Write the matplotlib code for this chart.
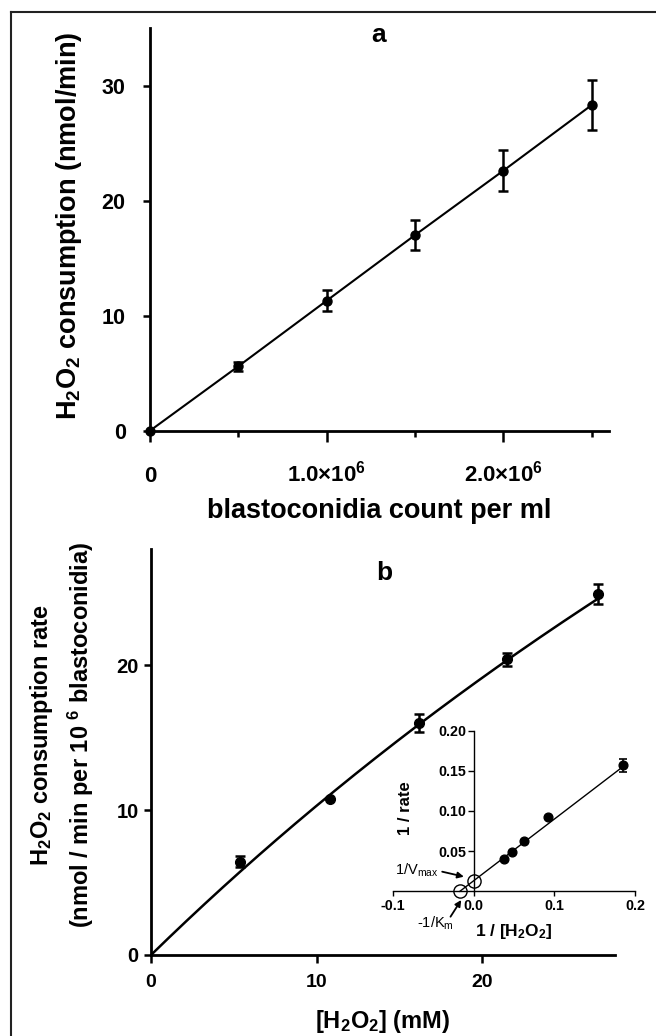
import numpy as np
import matplotlib
matplotlib.use('Agg')
import matplotlib.pyplot as plt
from matplotlib.lines import Line2D

plt.rcParams['font.family'] = ['Liberation Sans', 'DejaVu Sans']
plt.rcParams['font.weight'] = 'bold'
plt.rcParams['mathtext.fontset'] = 'custom'
plt.rcParams['mathtext.rm'] = 'Liberation Sans'
plt.rcParams['mathtext.bf'] = 'Liberation Sans:bold'
plt.rcParams['mathtext.default'] = 'regular'

# ---------------- Panel a data ----------------
cells_per_ml = [0, 0.5e6, 1.0e6, 1.5e6, 2.0e6, 2.5e6]
h2o2_consumption = [0, 5.6, 11.3, 17.0, 22.6, 28.3]
h2o2_consumption_err = [0, 0.4, 0.9, 1.3, 1.8, 2.2]
a_xticks = [0, 1.0e6, 2.0e6]
a_xtick_labels = ['0', '1.0×10$^6$', '2.0×10$^6$']
a_minor_xticks = [0.5e6, 1.5e6, 2.5e6]
a_yticks = [0, 10, 20, 30]
a_xlim = (0, 2.6e6)
a_ylim = (0, 35)

# ---------------- Panel b data ----------------
h2o2_mM = [5.4, 10.8, 16.2, 21.5, 27.0]
rate = [6.45, 10.8, 16.0, 20.4, 24.9]
rate_err = [0.4, 0.0, 0.6, 0.45, 0.7]
fit_vmax = 134.0
fit_km = 120.0
b_xticks = [0, 10, 20]
b_yticks = [0, 10, 20]
b_xlim = (0, 28)
b_ylim = (0, 28)

# ---------------- Inset (Lineweaver-Burk) ----------------
inv_h2o2 = [0.037, 0.047, 0.062, 0.092, 0.185]
inv_rate = [0.040, 0.049, 0.063, 0.093, 0.157]
inv_rate_err = [0.0, 0.0, 0.0, 0.0, 0.008]
lb_slope = 0.766
lb_intercept = 0.0133
in_xticks = [-0.1, 0.0, 0.1, 0.2]
in_xtick_labels = ['-0.1', '0.0', '0.1', '0.2']
in_yticks = [0.05, 0.10, 0.15, 0.20]
in_ytick_labels = ['0.05', '0.10', '0.15', '0.20']

W, H = 656, 1036
fig = plt.figure(figsize=(W / 100, H / 100), dpi=100)

# figure border (top and left visible)
fig.add_artist(Line2D([11 / W, 11 / W], [-0.01, 1 - 12 / H], transform=fig.transFigure,
                      color='#222222', lw=1.5))
fig.add_artist(Line2D([11 / W, 1.01], [1 - 12 / H, 1 - 12 / H], transform=fig.transFigure,
                      color='#222222', lw=1.5))

# ---------------- Panel a ----------------
ax_a = fig.add_axes([150 / W, 1 - 430.7 / H, 459.3 / W, 402.7 / H])
ax_a.plot(cells_per_ml, h2o2_consumption, '-o', color='black', lw=1.5, ms=6.5, clip_on=False, zorder=3)
ex = [x for x, e in zip(cells_per_ml, h2o2_consumption_err) if e > 0]
ey = [y for y, e in zip(h2o2_consumption, h2o2_consumption_err) if e > 0]
ee = [e for e in h2o2_consumption_err if e > 0]
ax_a.errorbar(ex, ey, yerr=ee, fmt='none', ecolor='black', elinewidth=1.8, capsize=3.6, capthick=1.8)
ax_a.set_xlim(*a_xlim)
ax_a.set_ylim(*a_ylim)
ax_a.set_xticks(a_xticks)
ax_a.set_xticklabels(a_xtick_labels)
ax_a.set_xticks(a_minor_xticks, minor=True)
ax_a.set_yticks(a_yticks)
for s in ['top', 'right']:
    ax_a.spines[s].set_visible(False)
for s in ['left', 'bottom']:
    ax_a.spines[s].set_linewidth(2)
ax_a.tick_params(axis='x', which='major', length=7.9, width=1.8, labelsize=16, pad=28.8)
ax_a.tick_params(axis='x', which='minor', length=4.3, width=1.8)
ax_a.tick_params(axis='y', which='major', length=5, width=1.8, labelsize=15.5, pad=12.5)
for lab in ax_a.get_xticklabels():
    lab.set_va('baseline')
ax_a.set_ylabel('H$_2$O$_2$ consumption (nmol/min)', fontsize=19.5, fontweight='bold')
ax_a.yaxis.label.set_va('center')
ax_a.yaxis.set_label_coords(-0.176, 0.508)
ax_a.set_xlabel('blastoconidia count per ml', fontsize=19.5, fontweight='bold')
ax_a.xaxis.label.set_va('baseline')
ax_a.xaxis.set_label_coords(0.5, -0.216)
ax_a.text(0.497, 0.966, 'a', transform=ax_a.transAxes, ha='center', va='baseline',
          fontsize=19, fontweight='bold')

# ---------------- Panel b ----------------
ax_b = fig.add_axes([151 / W, 1 - 955 / H, 464 / W, 405.7 / H])
s = np.linspace(0, h2o2_mM[-1], 200)
ax_b.plot(s, fit_vmax * s / (fit_km + s), color='black', lw=1.8)
ax_b.plot(h2o2_mM, rate, 'o', color='black', ms=7, zorder=3)
bx = [x for x, e in zip(h2o2_mM, rate_err) if e > 0]
by = [y for y, e in zip(rate, rate_err) if e > 0]
be = [e for e in rate_err if e > 0]
ax_b.errorbar(bx, by, yerr=be, fmt='none', ecolor='black', elinewidth=1.8, capsize=3.6, capthick=1.8)
ax_b.set_xlim(*b_xlim)
ax_b.set_ylim(*b_ylim)
ax_b.set_xticks(b_xticks)
ax_b.set_yticks(b_yticks)
for sp in ['top', 'right']:
    ax_b.spines[sp].set_visible(False)
for sp in ['left', 'bottom']:
    ax_b.spines[sp].set_linewidth(2)
ax_b.tick_params(axis='x', length=5.8, width=1.8, labelsize=14, pad=17)
ax_b.tick_params(axis='y', length=5, width=1.8, labelsize=14.5, pad=3.9)
for lab in ax_b.get_xticklabels():
    lab.set_va('baseline')
ax_b.text(-0.235, 0.542, 'H$_2$O$_2$ consumption rate', transform=ax_b.transAxes,
          rotation=90, ha='center', va='center', fontsize=17, fontweight='bold')
ax_b.text(-0.151, 0.542, '(nmol / min per 10 $^6$ blastoconidia)', transform=ax_b.transAxes,
          rotation=90, ha='center', va='center', fontsize=17, fontweight='bold')
ax_b.set_xlabel('[H$_2$O$_2$] (mM)', fontsize=17, fontweight='bold')
ax_b.xaxis.label.set_va('baseline')
ax_b.xaxis.set_label_coords(0.5, -0.181)
ax_b.text(0.503, 0.924, 'b', transform=ax_b.transAxes, ha='center', va='baseline',
          fontsize=19, fontweight='bold')

# ---------------- Inset ----------------
ax_in = fig.add_axes([393.3 / W, 1 - 891.3 / H, 241.7 / W, 160.8 / H])
ax_in.set_facecolor('none')
x0 = -lb_intercept / lb_slope
lx = np.array([x0, inv_h2o2[-1]])
ax_in.plot(lx, lb_slope * lx + lb_intercept, color='black', lw=1.0, clip_on=False)
ax_in.plot(inv_h2o2, inv_rate, 'o', color='black', ms=6.3, clip_on=False, zorder=3)
ix = [x for x, e in zip(inv_h2o2, inv_rate_err) if e > 0]
iy = [y for y, e in zip(inv_rate, inv_rate_err) if e > 0]
ie = [e for e in inv_rate_err if e > 0]
ax_in.errorbar(ix, iy, yerr=ie, fmt='none', ecolor='black', elinewidth=1.2, capsize=3, capthick=1.2,
               clip_on=False)
ax_in.plot([0, x0], [lb_intercept, 0], 'o', mfc='none', mec='black', mew=1.0, ms=9.5, clip_on=False,
           zorder=4)
ax_in.set_xlim(-0.1, 0.2)
ax_in.set_ylim(0, 0.2)
ax_in.spines['left'].set_position(('data', 0))
for sp in ['top', 'right']:
    ax_in.spines[sp].set_visible(False)
for sp in ['left', 'bottom']:
    ax_in.spines[sp].set_linewidth(1.0)
ax_in.set_xticks(in_xticks)
ax_in.set_xticklabels(in_xtick_labels)
ax_in.set_yticks(in_yticks)
ax_in.set_yticklabels(in_ytick_labels)
ax_in.tick_params(axis='x', length=3.6, width=1.0, labelsize=10.3, pad=10.0)
ax_in.tick_params(axis='y', length=4, width=1.0, labelsize=10.3, pad=1.5)
for lab in ax_in.get_xticklabels():
    lab.set_va('baseline')
ax_in.text(0.052, 0.516, '1 / rate', transform=ax_in.transAxes, rotation=90,
           ha='center', va='center', fontsize=12, fontweight='bold')
ax_in.text(0.499, -0.247, '1 / [H$_2$O$_2$]', transform=ax_in.transAxes,
           ha='center', va='center', fontsize=12.5, fontweight='bold')
ax_in.text(-0.0712, 0.0265, '1/V$_{max}$', ha='center', va='center', fontsize=10.5,
           fontweight='normal')
ax_in.annotate('', xy=(-0.0124, 0.0182), xytext=(-0.0393, 0.0244),
               arrowprops=dict(arrowstyle='-|>', color='black', lw=1.3, mutation_scale=9,
                               shrinkA=0, shrinkB=0), annotation_clip=False)
ax_in.text(-0.0476, -0.0398, '-1/K$_m$', ha='center', va='center', fontsize=10.5,
           fontweight='normal')
ax_in.annotate('', xy=(-0.0157, -0.0108), xytext=(-0.029, -0.0316),
               arrowprops=dict(arrowstyle='-|>', color='black', lw=1.3, mutation_scale=9,
                               shrinkA=0, shrinkB=0), annotation_clip=False)

fig.savefig('out.png', dpi=100)
